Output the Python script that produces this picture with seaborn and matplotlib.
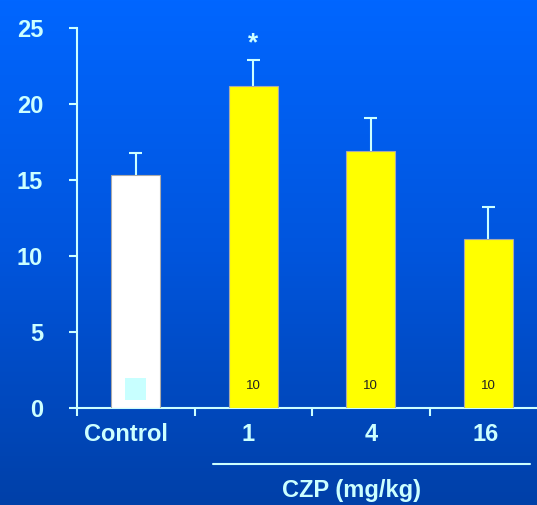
import numpy as np
import matplotlib
matplotlib.use("Agg")
import matplotlib.pyplot as plt
import matplotlib.transforms as mtrans
import seaborn as sns
from matplotlib.colors import LinearSegmentedColormap

categories = ["Control", "1", "4", "16"]
means = [15.3, 21.2, 16.9, 11.1]
errors = [1.5, 1.7, 2.2, 2.1]
n_labels = ["", "10", "10", "10"]
bar_colors = ["#ffffff", "#ffff00", "#ffff00", "#ffff00"]
yticks = [0, 5, 10, 15, 20, 25]

txt = "#ccffff"
sns.set_theme(style="white")
plt.rcParams['font.family'] = ['Liberation Sans', 'DejaVu Sans']

fig = plt.figure(figsize=(5.37, 5.05), dpi=100)
# gradient background
bg = fig.add_axes([0, 0, 1, 1], zorder=-10)
cmap = LinearSegmentedColormap.from_list("bg", ["#0066ff", "#0055dd", "#0040a8"])
grad = np.linspace(0, 1, 256).reshape(-1, 1)
bg.imshow(grad, aspect="auto", cmap=cmap, extent=[0, 1, 0, 1], origin="upper")
bg.set_axis_off()

W, H = 537, 505
ax = fig.add_axes([77 / W, (H - 408) / H, 1 - 77 / W, (408 - 28) / H])
ax.patch.set_alpha(0)

sns.barplot(x=categories, y=means, hue=categories, palette=bar_colors, saturation=1,
            legend=False, width=0.42, ax=ax, edgecolor="#aaaaaa", linewidth=0.8,
            zorder=3)
xs = np.arange(len(categories))
tops = np.array(means) + np.array(errors)
ax.vlines(xs, means, tops, color=txt, lw=1.5, zorder=2)
ax.hlines(tops, xs - 0.055, xs + 0.055, color=txt, lw=1.5, zorder=2)

ax.set_ylim(0, 25)
ax.set_xlim(-0.5, 3.5 - 10 / 117.5)
ax.set_yticks(yticks)
ax.set_yticklabels([str(t) for t in yticks], color=txt, fontsize=17, fontweight="bold")
ax.set_xticks(xs)
ax.set_xticklabels(categories, color=txt, fontsize=17, fontweight="bold")
ax.set_xticks([-0.5, 0.5, 1.5, 2.5], minor=True)
ax.tick_params(axis="x", which="major", length=0, pad=11)
ax.tick_params(axis="x", which="minor", length=5.5, width=1.5, color=txt, direction="out", bottom=True)
ax.tick_params(axis="y", length=5.8, width=1.5, color=txt, direction="out", left=True, pad=18.5)
xl = ax.get_xticklabels()
xl[0].set_transform(xl[0].get_transform() + mtrans.ScaledTranslation(-0.1, 0, fig.dpi_scale_trans))
xl[1].set_transform(xl[1].get_transform() + mtrans.ScaledTranslation(-0.05, 0, fig.dpi_scale_trans))
xl[3].set_transform(xl[3].get_transform() + mtrans.ScaledTranslation(-0.03, 0, fig.dpi_scale_trans))

for s in ["top", "right"]:
    ax.spines[s].set_visible(False)
for s in ["left", "bottom"]:
    ax.spines[s].set_color(txt)
    ax.spines[s].set_linewidth(1.5)
ax.grid(False)

for i, lab in enumerate(n_labels):
    if lab:
        ax.text(i, 1.45, lab, ha="center", va="center", fontsize=9.5, color="#222222", zorder=5)

# small square in control bar
ax.add_patch(plt.Rectangle((-0.09, 0.5), 0.18, 1.45, facecolor="#c8ffff", edgecolor="none", zorder=5))

ax.text(1, 24.0, "*", ha="center", va="center", fontsize=19, fontweight="bold", color=txt)

# group line and label
fig.add_artist(plt.Line2D([213 / W, 530 / W], [(H - 464) / H, (H - 464) / H], color=txt, lw=1.5))
fig.text(352 / W, (H - 490) / H, "CZP (mg/kg)", ha="center", va="center", fontsize=17,
         fontweight="bold", color=txt)

fig.savefig("out.png", dpi=100)
